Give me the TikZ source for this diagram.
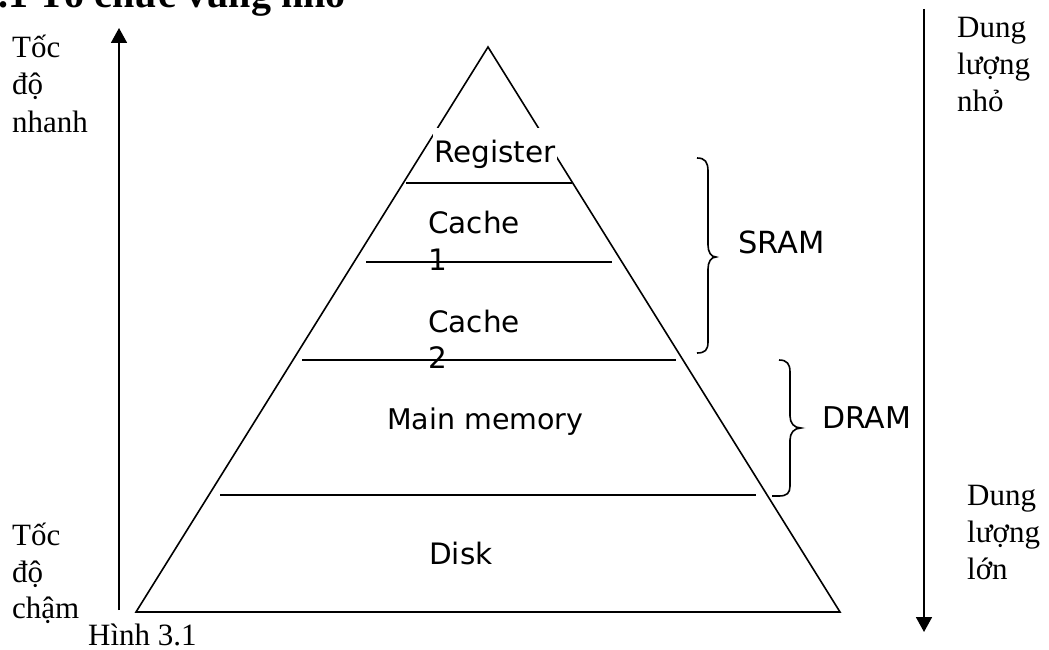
\documentclass[tikz,border=0pt]{standalone}
\usepackage{fontspec}
\setmainfont{Liberation Serif}
\newfontfamily\dejavu{DejaVu Sans}
\usetikzlibrary{arrows.meta}
\begin{document}
\begin{tikzpicture}[x=1pt,y=-1pt,
  serif/.style={font=\fontsize{31}{37}\selectfont, inner sep=0pt, anchor=base west},
  sans/.style={font=\dejavu\fontsize{29.5}{37}\selectfont, inner sep=0pt, anchor=base west},
  ln/.style={line width=1.6pt},
  arr/.style={line width=1.8pt, -{Triangle[width=16pt,length=15pt]}},
  brc/.style={line width=1.6pt}]
\useasboundingbox (0,0) rectangle (1049,650);

% title (cut off at top)
\node[font=\bfseries\fontsize{40}{40}\selectfont, inner sep=0pt, anchor=base east] (title) at (348,8) {3.1 Tổ chức vùng nhớ};

% pyramid
\coordinate (apex) at (488,47);
\coordinate (bl) at (136,612);
\coordinate (br) at (840,612);
\draw[ln, line join=miter] (apex) -- (bl) -- (br) -- cycle;

\node[sans, fill=white, inner xsep=1pt, inner ysep=0pt, text height=34pt, text depth=10pt] (reg) at (433,162) {Register};

\coordinate (l1a) at (406,183); \coordinate (l1b) at (572,183);
\coordinate (l2a) at (366,262); \coordinate (l2b) at (612,262);
\coordinate (l3a) at (302,360); \coordinate (l3b) at (676,360);
\coordinate (l4a) at (220,495); \coordinate (l4b) at (756,495);
\draw[ln] (l1a) -- (l1b);
\draw[ln] (l2a) -- (l2b);
\draw[ln] (l3a) -- (l3b);
\draw[ln] (l4a) -- (l4b);

\node[sans] (c1a) at (428,233) {Cache};
\node[sans] (c1b) at (428,270) {1};
\node[sans] (c2a) at (428,332) {Cache};
\node[sans] (c2b) at (428,368) {2};
\node[sans, font=\dejavu\fontsize{28.5}{37}\selectfont] (mm) at (387,429) {Main memory};
\node[sans] (disk) at (429,564) {Disk};

% braces
\draw[brc] (697,158) .. controls (705,158) and (708,162) .. (708,171) -- (708,245)
  .. controls (708,252) and (711,257) .. (716,257)
  .. controls (711,257) and (708,262) .. (708,269) -- (708,342)
  .. controls (708,350) and (705,353) .. (697,353);
\node[sans, font=\dejavu\fontsize{30.5}{37}\selectfont] (sram) at (738,253) {SRAM};

\draw[brc] (779,360) .. controls (787,360) and (790,364) .. (790,372) -- (790,416)
  .. controls (790,423) and (794,428) .. (801,428)
  .. controls (794,428) and (790,433) .. (790,440) -- (790,486)
  .. controls (790,493) and (787,496) .. (779,496) -- (772,496);
\node[sans, font=\dejavu\fontsize{30}{37}\selectfont] (dram) at (822,428) {DRAM};

% arrows
\coordinate (la0) at (119,610);
\coordinate (la1) at (119,28);
\draw[arr] (la0) -- (la1);
\coordinate (ra0) at (924,9);
\coordinate (ra1) at (924,632);
\draw[arr] (ra0) -- (ra1);

% left labels
\node[serif] (t1) at (12,58) {Tốc};
\node[serif] (t2) at (12,95) {độ};
\node[serif] (t3) at (12,132) {nhanh};
\node[serif] (b1) at (12,545) {Tốc};
\node[serif] (b2) at (12,582) {độ};
\node[serif] (b3) at (12,618) {chậm};
\node[serif] (fig) at (88,645) {Hình 3.1};

% right labels
\node[serif] (r1) at (957,38) {Dung};
\node[serif] (r2) at (957,75) {lượng};
\node[serif] (r3) at (957,112) {nhỏ};
\node[serif] (s1) at (967,505) {Dung};
\node[serif] (s2) at (967,542) {lượng};
\node[serif] (s3) at (967,579) {lớn};
\end{tikzpicture}
\end{document}
